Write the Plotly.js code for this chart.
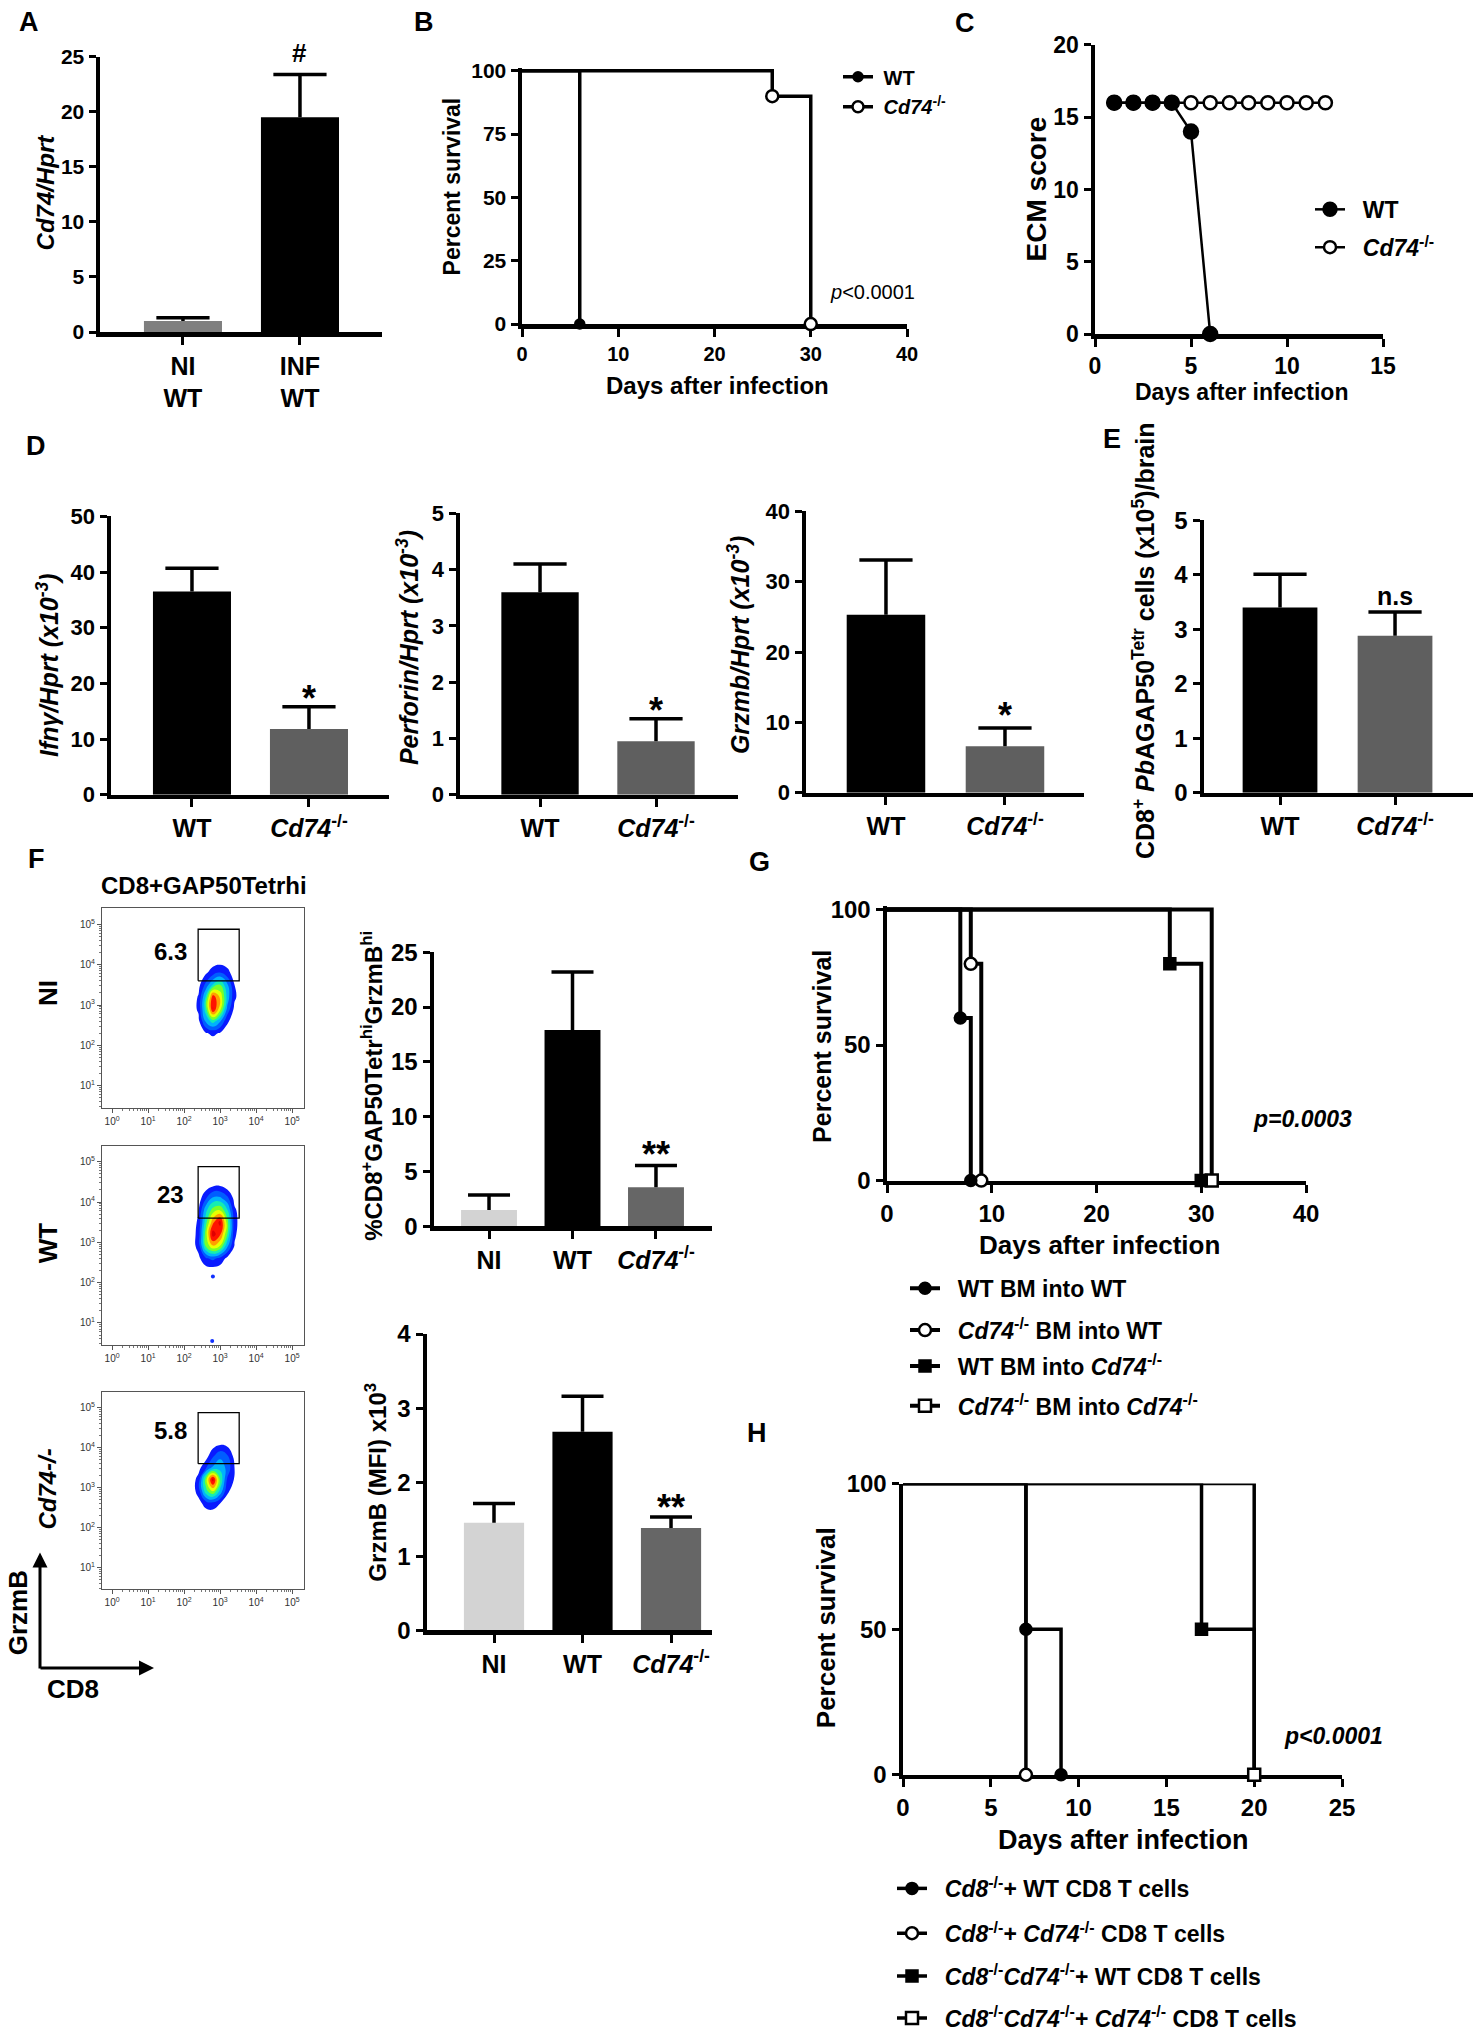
<!DOCTYPE html>
<html>
<head>
<meta charset="utf-8">
<script src="https://cdn.plot.ly/plotly-3.0.1.min.js"></script>
<style>body{margin:0;background:#fff}</style>
</head>
<body>
<div id="fig" style="width:1479px;height:2040px"></div>
<script>
var W = 1479, H = 2040;
var FONT = 'Liberation Sans, Arial, Helvetica, sans-serif';
var KO = '<i>Cd74</i><sup>-/-</sup>';

// ---------- data ----------
// A
var aCats = ['NI<br>WT', 'INF<br>WT'];
var aMean = [1.0, 19.5];
var aErr = [0.3, 3.9];

// B
var bWtDays = [0, 6];
var bWtSurv = [100, 0];
var bKoDays = [0, 26, 30];
var bKoSurv = [100, 90, 0];

// C
var cWtDays = [1, 2, 3, 4, 5, 6];
var cWtScore = [16, 16, 16, 16, 14, 0];
var cKoDays = [1, 2, 3, 4, 5, 6, 7, 8, 9, 10, 11, 12];
var cKoScore = [16, 16, 16, 16, 16, 16, 16, 16, 16, 16, 16, 16];

// D, E
var dCats = ['WT', KO];
var ifngMean = [36.5, 11.8];
var ifngErr = [4.2, 4.0];
var prfMean = [3.6, 0.95];
var prfErr = [0.5, 0.4];
var gzmMean = [25.3, 6.6];
var gzmErr = [7.8, 2.6];
var tetMean = [3.4, 2.88];
var tetErr = [0.61, 0.44];

// F bars
var fCats = ['NI', 'WT', KO];
var pctMean = [1.5, 17.9, 3.57];
var pctErr = [1.36, 5.3, 1.97];
var mfiMean = [1.45, 2.68, 1.38];
var mfiErr = [0.26, 0.48, 0.15];

// F flow plots (log10 units)
var flowX = [2.2, 2.4, 2.6, 2.8, 3.0, 3.2, 3.4, 3.6];
var flowY = [2.0, 2.3, 2.6, 2.9, 3.2, 3.5, 3.8, 4.1, 4.4, 4.7];
var flowNI = [
  [0, 0, 0, 0, 0, 0, 0, 0],
  [0, 0, 0.5, 0.8, 0.5, 0, 0, 0],
  [0, 0.3, 3, 4.5, 3, 0.8, 0, 0],
  [0, 0.8, 4.5, 9.5, 6.5, 2.5, 0.3, 0],
  [0, 0.7, 4, 9, 7, 3.5, 0.8, 0],
  [0, 0.2, 2, 4, 5, 3, 0.6, 0],
  [0, 0, 0.4, 1.2, 1.8, 1, 0, 0],
  [0, 0, 0, 0, 0, 0, 0, 0],
  [0, 0, 0, 0, 0, 0, 0, 0],
  [0, 0, 0, 0, 0, 0, 0, 0]
];
var flowWT = [
  [0, 0, 0, 0, 0, 0, 0, 0],
  [0, 0, 0, 0, 0, 0, 0, 0],
  [0, 0.3, 1.5, 2, 1.3, 0.3, 0, 0],
  [0, 1, 5, 7, 6, 3, 0.5, 0],
  [0, 1, 5.5, 10, 8.5, 5, 0.8, 0],
  [0, 0.8, 4.5, 8, 9.8, 5.5, 1, 0],
  [0, 0.5, 3.5, 5.5, 6, 4, 0.8, 0],
  [0, 0, 1.5, 3, 3, 2, 0.2, 0],
  [0, 0, 0, 0.5, 0.6, 0, 0, 0],
  [0, 0, 0, 0, 0, 0, 0, 0]
];
var flowKO = [
  [0, 0, 0, 0, 0, 0, 0, 0],
  [0, 0, 0, 0, 0, 0, 0, 0],
  [0, 0.2, 1, 1.2, 0.6, 0, 0, 0],
  [0, 1, 4.5, 6, 3.5, 0.8, 0, 0],
  [0, 1, 5.5, 10, 5, 1.5, 0.5, 0],
  [0, 0.2, 1.5, 3, 3.5, 2.5, 0.6, 0],
  [0, 0, 0, 1.5, 2.5, 1.8, 0.2, 0],
  [0, 0, 0, 0, 0.4, 0.2, 0, 0],
  [0, 0, 0, 0, 0, 0, 0, 0],
  [0, 0, 0, 0, 0, 0, 0, 0]
];
var flowGateX = [2.39, 3.53];
var flowGateY = [3.6, 4.88];
var flowPct = ['6.3', '23', '5.8'];
var flowWtDotsX = [2.8, 2.78];
var flowWtDotsY = [2.15, 0.55];
var flowDecadesX = [0, 1, 2, 3, 4, 5];
var flowDecadesY = [1, 2, 3, 4, 5];

// G
var gWtWtDays = [0, 7, 8], gWtWtSurv = [100, 60, 0];
var gKoWtDays = [0, 8, 9], gKoWtSurv = [100, 80, 0];
var gWtKoDays = [0, 27, 30], gWtKoSurv = [100, 80, 0];
var gKoKoDays = [0, 31], gKoKoSurv = [100, 0];

// H
var hWtDays = [0, 7, 9], hWtSurv = [100, 50, 0];
var hKoDays = [0, 7], hKoSurv = [100, 0];
var hDkWtDays = [0, 17, 20], hDkWtSurv = [100, 50, 0];
var hDkKoDays = [0, 20], hDkKoSurv = [100, 0];

// ---------- helpers ----------
var traces = [];
var layout = {
  width: W, height: H,
  margin: {l: 0, r: 0, t: 0, b: 0},
  paper_bgcolor: 'white', plot_bgcolor: 'rgba(0,0,0,0)',
  font: {family: FONT, size: 20, color: 'black', weight: 'bold'},
  showlegend: true, hovermode: false,
  annotations: []
};

var nAx = 0;
function subplot(l, r, t, b, xa, ya) {
  nAx++;
  var s = nAx === 1 ? '' : String(nAx);
  xa.domain = [l / W, r / W];
  xa.anchor = 'y' + s;
  ya.domain = [1 - b / H, 1 - t / H];
  ya.anchor = 'x' + s;
  layout['xaxis' + s] = xa;
  layout['yaxis' + s] = ya;
  return {x: 'x' + s, y: 'y' + s};
}

function prism(range, dtick, size, extra) {
  var a = {
    range: range, tick0: 0, dtick: dtick,
    showline: true, linewidth: 4.5, linecolor: 'black',
    ticks: 'outside', ticklen: 7, tickwidth: 3, tickcolor: 'black',
    showgrid: false, zeroline: false, fixedrange: true,
    tickfont: {family: FONT, size: size, color: 'black', weight: 'bold'}
  };
  if (extra) for (var k in extra) a[k] = extra[k];
  return a;
}

function catAxis(range, cats, size) {
  return prism(range, 1, size, {
    tickmode: 'array',
    tickvals: cats.map(function (c, i) { return i; }),
    ticktext: cats, ticklen: 8
  });
}

function bars(ax, mean, err, colors, barW, capW) {
  var idx = mean.map(function (v, i) { return i; });
  traces.push({
    type: 'bar', x: idx, y: mean, width: barW,
    marker: {color: colors, line: {width: 0}},
    error_y: {type: 'data', symmetric: false, array: err,
      arrayminus: err.map(function () { return 0; }),
      width: 0, thickness: 3.5, color: 'black'},
    xaxis: ax.x, yaxis: ax.y, showlegend: false, hoverinfo: 'skip'
  });
  traces.push({
    type: 'scatter', mode: 'markers', x: idx,
    y: mean.map(function (v, i) { return v + err[i]; }),
    marker: {symbol: 'line-ew', size: capW, color: 'black', line: {width: 3.5, color: 'black'}},
    xaxis: ax.x, yaxis: ax.y, showlegend: false, hoverinfo: 'skip', cliponaxis: false
  });
}

function sig(ax, i, mean, err, text, size, shift) {
  layout.annotations.push({
    xref: ax.x, yref: ax.y, x: i, y: mean[i] + err[i], text: text,
    showarrow: false, yanchor: 'middle', yshift: shift,
    font: {family: FONT, size: size, color: 'black', weight: 'bold'}
  });
}

function curve(ax, days, surv, sym, fill, msize, lw, shape) {
  traces.push({
    type: 'scatter', mode: 'lines+markers', x: days, y: surv,
    xaxis: ax.x, yaxis: ax.y,
    line: {shape: shape || 'hv', color: 'black', width: lw},
    marker: {symbol: sym, size: msize, color: fill,
      opacity: shape ? 1 : days.map(function (d, i) { return i === 0 ? 0 : 1; }),
      line: {color: 'black', width: 2.5}},
    cliponaxis: false, showlegend: false, hoverinfo: 'skip'
  });
}

var nLeg = 0;
function legendItem(ax, name, sym, fill, msize, lw, size, mx, my) {
  nLeg++;
  var id = nLeg === 1 ? 'legend' : 'legend' + nLeg;
  traces.push({
    type: 'scatter', mode: 'lines+markers', x: [null], y: [null],
    xaxis: ax.x, yaxis: ax.y, name: name, legend: id,
    line: {color: 'black', width: lw},
    marker: {symbol: sym, size: msize, color: fill, line: {color: 'black', width: 2.5}},
    hoverinfo: 'skip'
  });
  layout[id] = {
    x: (mx - 20) / W, y: 1 - my / H, xanchor: 'left', yanchor: 'middle',
    bgcolor: 'rgba(0,0,0,0)', borderwidth: 0, itemwidth: 30,
    font: {family: FONT, size: size, color: 'black', weight: 'bold'},
    itemclick: false, itemdoubleclick: false
  };
}

function txt(s, x, y, size, opts) {
  var a = {
    text: s, x: x / W, y: 1 - y / H, xref: 'paper', yref: 'paper',
    showarrow: false, xanchor: 'center', yanchor: 'middle',
    font: {family: FONT, size: size, color: 'black', weight: 'bold'}
  };
  if (opts) for (var k in opts) a[k] = opts[k];
  layout.annotations.push(a);
}
function vtxt(s, x, y, size) { txt(s, x, y, size, {textangle: -90}); }

// ---------- A ----------
var axA = subplot(100, 382, 57, 333,
  catAxis([-0.709, 1.701], aCats, 25),
  prism([0, 25], 5, 21));
bars(axA, aMean, aErr, ['#7f7f7f', '#000000'], 0.667, 38);
sig(axA, 1, aMean, aErr, '#', 26, 21);
vtxt('<i>Cd74/Hprt</i>', 45, 193, 24);
txt('A', 29, 22, 27);

// ---------- B ----------
var axB = subplot(522, 907, 68, 325,
  prism([0, 40], 10, 20, {layer: 'below traces', ticklen: 8}),
  prism([0, 101.2], 25, 21, {layer: 'below traces'}));
curve(axB, bKoDays, bKoSurv, 'circle', 'white', 12, 3.5);
curve(axB, bWtDays, bWtSurv, 'circle', 'black', 9, 3.5);
legendItem(axB, '&nbsp;WT', 'circle', 'black', 9, 3.5, 20, 858, 77);
legendItem(axB, '&nbsp;' + KO, 'circle', 'white', 11, 3.5, 20, 858, 107);
txt('<i>p</i>&lt;0.0001', 872, 293, 20, {font: {family: FONT, size: 20, color: 'black', weight: 'normal'}});
vtxt('Percent survival', 452, 187, 23);
txt('Days after infection', 717, 387, 24);
txt('B', 424, 22, 27);

// ---------- C ----------
var axC = subplot(1095, 1383, 45, 335,
  prism([0, 15], 5, 23, {layer: 'below traces', ticklen: 8}),
  prism([0, 20], 5, 23, {layer: 'below traces'}));
curve(axC, cKoDays, cKoScore, 'circle', 'white', 13, 2.5, 'linear');
curve(axC, cWtDays, cWtScore, 'circle', 'black', 14, 2.5, 'linear');
legendItem(axC, '&nbsp;&nbsp;WT', 'circle', 'black', 13, 2.5, 23, 1330, 210);
legendItem(axC, '&nbsp;&nbsp;' + KO, 'circle', 'white', 12, 2.5, 23, 1330, 248);
vtxt('ECM score', 1036, 190, 28);
txt('Days after infection', 1241, 393, 23);
txt('C', 965, 23, 27);

// ---------- D ----------
var axD1 = subplot(111, 389, 518, 797,
  catAxis([-0.692, 1.684], dCats, 25), prism([0, 50], 10, 22));
bars(axD1, ifngMean, ifngErr, ['#000000', '#5f5f5f'], 0.667, 38);
sig(axD1, 1, ifngMean, ifngErr, '*', 36, 8);
vtxt('<i>Ifnγ/Hprt (x10<sup>-3</sup>)</i>', 48, 667, 25);

var axD2 = subplot(460, 738, 515, 797,
  catAxis([-0.690, 1.707], dCats, 25), prism([0, 5], 1, 22));
bars(axD2, prfMean, prfErr, ['#000000', '#5f5f5f'], 0.667, 38);
sig(axD2, 1, prfMean, prfErr, '*', 36, 8);
vtxt('<i>Perforin/Hprt (x10<sup>-3</sup>)</i>', 408, 650, 25);

var axD3 = subplot(806, 1084, 513, 795,
  catAxis([-0.672, 1.664], dCats, 25), prism([0, 40], 10, 22));
bars(axD3, gzmMean, gzmErr, ['#000000', '#5f5f5f'], 0.66, 38);
sig(axD3, 1, gzmMean, gzmErr, '*', 36, 12);
vtxt('<i>Grzmb/Hprt (x10<sup>-3</sup>)</i>', 739, 647, 25);
txt('D', 36, 447, 27);

// ---------- E ----------
var axE = subplot(1204, 1473, 522, 795,
  catAxis([-0.661, 1.678], dCats, 25), prism([0, 5], 1, 24));
bars(axE, tetMean, tetErr, ['#000000', '#5f5f5f'], 0.65, 38);
sig(axE, 1, tetMean, tetErr, 'n.s', 25, 16);
vtxt('CD8<sup>+</sup> <i>Pb</i>AGAP50<sup>Tetr</sup> cells (x10<sup>5</sup>)/brain', 1144, 643, 25);
txt('E', 1112, 440, 27);

// ---------- F flow plots ----------
var JET = [[0, '#ffffff'], [0.04, '#ffffff'], [0.05, '#0a14ff'], [0.17, '#0050ff'],
  [0.28, '#00a0ff'], [0.39, '#00e0f0'], [0.5, '#30ff60'], [0.61, '#b0ff00'],
  [0.72, '#ffff00'], [0.83, '#ff8c00'], [0.94, '#ff1000'], [1, '#e00000']];
var minorX = [];
for (var d = 0; d < 5; d++) for (var k = 2; k < 10; k++) minorX.push(d + Math.log10(k));

function flowAxis(range, vals) {
  return {
    range: range, tickmode: 'array', tickvals: vals,
    ticktext: vals.map(function (v) { return '10<sup>' + v + '</sup>'; }),
    showline: true, mirror: true, linecolor: '#555', linewidth: 1,
    ticks: 'outside', ticklen: 4, tickwidth: 1, tickcolor: '#555',
    minor: {tickvals: minorX, ticks: 'outside', ticklen: 2, tickwidth: 1, tickcolor: '#777'},
    showgrid: false, zeroline: false, fixedrange: true,
    tickfont: {family: FONT, size: 10, color: '#333', weight: 'normal'}
  };
}

function flowPlot(t, b, z, pct, pctY) {
  var ax = subplot(102, 304, t, b, flowAxis([-0.28, 5.33], flowDecadesX), flowAxis([0.45, 5.4], flowDecadesY));
  traces.push({
    type: 'contour', x: flowX, y: flowY, z: z, xaxis: ax.x, yaxis: ax.y,
    autocontour: false, contours: {start: 0.6, end: 10, size: 1.1, coloring: 'fill', showlines: false},
    line: {width: 0, smoothing: 1.3}, colorscale: JET, zmin: 0, zmax: 10,
    showscale: false, hoverinfo: 'skip'
  });
  traces.push({
    type: 'scatter', mode: 'lines',
    x: [flowGateX[0], flowGateX[1], flowGateX[1], flowGateX[0], flowGateX[0]],
    y: [flowGateY[0], flowGateY[0], flowGateY[1], flowGateY[1], flowGateY[0]],
    line: {color: 'black', width: 1.3}, xaxis: ax.x, yaxis: ax.y,
    showlegend: false, hoverinfo: 'skip'
  });
  txt(pct, 170, pctY, 24);
  return ax;
}
flowPlot(911, 1111, flowNI, flowPct[0], 954);
var axFW = flowPlot(1149, 1349, flowWT, flowPct[1], 1198);
traces.push({type: 'scatter', mode: 'markers', x: flowWtDotsX, y: flowWtDotsY,
  marker: {color: '#1030ff', size: 4}, xaxis: axFW.x, yaxis: axFW.y, showlegend: false, hoverinfo: 'skip'});
flowPlot(1396, 1594, flowKO, flowPct[2], 1435);

txt('CD8+GAP50Tetrhi', 204, 888, 24);
vtxt('NI', 48, 996, 26);
vtxt('WT', 48, 1247, 26);
vtxt('<i>Cd74-/-</i>', 48, 1494, 24);
vtxt('GrzmB', 18, 1618, 26);
txt('CD8', 73, 1694, 26);
layout.annotations.push({x: 40 / W, y: 1 - 1557 / H, ax: 40 / W, ay: 1 - 1675 / H,
  xref: 'paper', yref: 'paper', axref: 'paper', ayref: 'paper', text: '',
  showarrow: true, arrowhead: 2, arrowsize: 1, arrowwidth: 3, arrowcolor: 'black'});
layout.annotations.push({x: 154 / W, y: 1 - 1673 / H, ax: 39 / W, ay: 1 - 1673 / H,
  xref: 'paper', yref: 'paper', axref: 'paper', ayref: 'paper', text: '',
  showarrow: true, arrowhead: 2, arrowsize: 1, arrowwidth: 3, arrowcolor: 'black'});
txt('F', 36, 862, 27);

// ---------- F bars ----------
var axF1 = subplot(434, 712, 955, 1230,
  catAxis([-0.659, 2.671], fCats, 25), prism([0, 25], 5, 24));
bars(axF1, pctMean, pctErr, ['#d3d3d3', '#000000', '#666666'], 0.67, 30);
sig(axF1, 2, pctMean, pctErr, '**', 36, 11);
vtxt('%CD8<sup>+</sup>GAP50Tetr<sup>hi</sup>GrzmB<sup>hi</sup>', 372, 1089, 24);

var axF2 = subplot(427, 712, 1338, 1635,
  catAxis([-0.757, 2.463], fCats, 25), prism([0, 4], 1, 24));
bars(axF2, mfiMean, mfiErr, ['#d3d3d3', '#000000', '#666666'], 0.68, 30);
sig(axF2, 2, mfiMean, mfiErr, '**', 36, 9);
vtxt('GrzmB (MFI) x10<sup>3</sup>', 376, 1487, 24);

// ---------- G ----------
var axG = subplot(887, 1306, 909, 1184,
  prism([0, 40], 10, 24, {layer: 'below traces', ticklen: 8}),
  prism([0, 101.2], 50, 24, {layer: 'below traces'}));
curve(axG, gKoKoDays, gKoKoSurv, 'square', 'white', 12, 4);
curve(axG, gWtKoDays, gWtKoSurv, 'square', 'black', 11, 4);
curve(axG, gKoWtDays, gKoWtSurv, 'circle', 'white', 12, 4);
curve(axG, gWtWtDays, gWtWtSurv, 'circle', 'black', 11, 4);
legendItem(axG, '&nbsp;&nbsp;WT BM into WT', 'circle', 'black', 11, 4, 23, 925, 1292);
legendItem(axG, '&nbsp;&nbsp;' + KO + ' BM into WT', 'circle', 'white', 12, 4, 23, 925, 1334);
legendItem(axG, '&nbsp;&nbsp;WT BM into ' + KO, 'square', 'black', 11, 4, 23, 925, 1370);
legendItem(axG, '&nbsp;&nbsp;' + KO + ' BM into ' + KO, 'square', 'white', 12, 4, 23, 925, 1410);
txt('<i>p=0.0003</i>', 1302, 1122, 23);
vtxt('Percent survival', 822, 1050, 25);
txt('Days after infection', 1099, 1249, 26);
txt('G', 759, 865, 27);

// ---------- H ----------
var CD8KO = '<i>Cd8</i><sup>-/-</sup>';
var axH = subplot(903, 1342, 1488, 1780,
  prism([0, 25], 5, 24, {layer: 'below traces', ticklen: 8}),
  prism([0, 100], 50, 24, {layer: 'below traces'}));
curve(axH, hDkWtDays, hDkWtSurv, 'square', 'black', 11, 3.5);
curve(axH, hDkKoDays, hDkKoSurv, 'square', 'white', 12, 3.5);
curve(axH, hWtDays, hWtSurv, 'circle', 'black', 11, 3.5);
curve(axH, hKoDays, hKoSurv, 'circle', 'white', 12, 3.5);
legendItem(axH, '&nbsp;&nbsp;' + CD8KO + '+ WT CD8 T cells', 'circle', 'black', 11, 3.5, 23, 912, 1894);
legendItem(axH, '&nbsp;&nbsp;' + CD8KO + '+ ' + KO + ' CD8 T cells', 'circle', 'white', 12, 3.5, 23, 912, 1939);
legendItem(axH, '&nbsp;&nbsp;' + CD8KO + KO + '+ WT CD8 T cells', 'square', 'black', 11, 3.5, 23, 912, 1982);
legendItem(axH, '&nbsp;&nbsp;' + CD8KO + KO + '+ ' + KO + ' CD8 T cells', 'square', 'white', 12, 3.5, 23, 912, 2024);
txt('<i>p&lt;0.0001</i>', 1333, 1741, 23);
vtxt('Percent survival', 826, 1633, 26);
txt('Days after infection', 1123, 1845, 27);
txt('H', 757, 1437, 27);

Plotly.newPlot('fig', traces, layout, {staticPlot: true});
</script>
</body>
</html>
